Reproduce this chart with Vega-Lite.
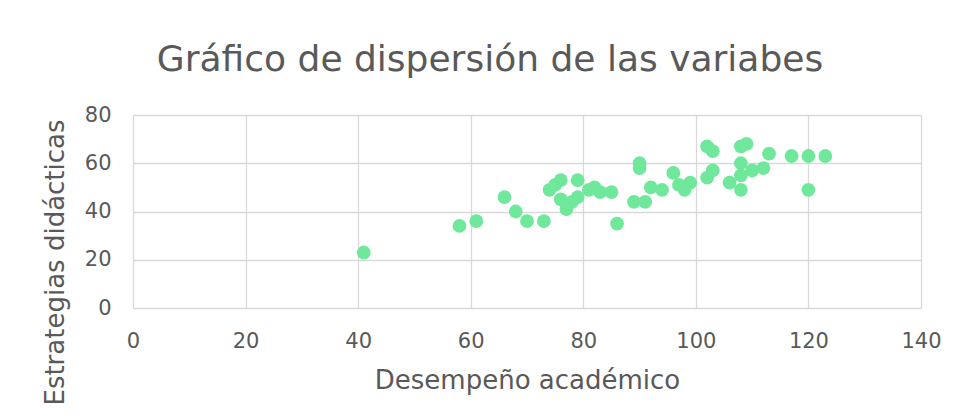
{
  "$schema": "https://vega.github.io/schema/vega-lite/v6.json",
  "autosize": {"type": "none"},
  "width": 788,
  "height": 193,
  "padding": {"left": 133, "top": 115, "right": 36, "bottom": 112},
  "background": "white",
  "title": {
    "text": "Gráfico de dispersión de las variabes",
    "anchor": "middle",
    "frame": "group",
    "dx": -37,
    "baseline": "alphabetic",
    "offset": -3,
    "font": "DejaVu Sans",
    "fontSize": 36,
    "fontWeight": "normal",
    "color": "#595959"
  },
  "data": {
    "values": [
      {"x": 41, "y": 23}, {"x": 58, "y": 34}, {"x": 61, "y": 36}, {"x": 66, "y": 46},
      {"x": 68, "y": 40}, {"x": 70, "y": 36}, {"x": 73, "y": 36}, {"x": 74, "y": 49},
      {"x": 75, "y": 51}, {"x": 76, "y": 53}, {"x": 76, "y": 45}, {"x": 77, "y": 41},
      {"x": 78, "y": 44}, {"x": 79, "y": 53}, {"x": 79, "y": 46}, {"x": 81, "y": 49},
      {"x": 82, "y": 50}, {"x": 83, "y": 48}, {"x": 85, "y": 48}, {"x": 86, "y": 35},
      {"x": 89, "y": 44}, {"x": 90, "y": 60}, {"x": 90, "y": 58}, {"x": 91, "y": 44},
      {"x": 92, "y": 50}, {"x": 94, "y": 49}, {"x": 96, "y": 56}, {"x": 97, "y": 51},
      {"x": 98, "y": 49}, {"x": 99, "y": 52}, {"x": 102, "y": 67}, {"x": 103, "y": 65},
      {"x": 102, "y": 54}, {"x": 103, "y": 57}, {"x": 106, "y": 52}, {"x": 108, "y": 67},
      {"x": 109, "y": 68}, {"x": 108, "y": 60}, {"x": 108, "y": 55}, {"x": 108, "y": 49},
      {"x": 110, "y": 57}, {"x": 112, "y": 58}, {"x": 113, "y": 64}, {"x": 117, "y": 63},
      {"x": 120, "y": 63}, {"x": 123, "y": 63}, {"x": 120, "y": 49}
    ]
  },
  "mark": {"type": "circle", "size": 190, "color": "#70E89C", "opacity": 1},
  "encoding": {
    "x": {
      "field": "x", "type": "quantitative",
      "scale": {"domain": [0, 140], "nice": false},
      "axis": {
        "values": [0, 20, 40, 60, 80, 100, 120, 140],
        "title": "Desempeño académico",
        "domain": false, "ticks": false,
        "labelFlush": false,
        "labelPadding": 22,
        "labelFontSize": 21, "labelFont": "DejaVu Sans", "labelColor": "#595959",
        "titleFontSize": 26, "titleFont": "DejaVu Sans", "titleColor": "#595959",
        "titleFontWeight": "normal",
        "titleBaseline": "alphabetic",
        "titleY": 80,
        "gridColor": "#D9D9D9", "gridWidth": 1.3
      }
    },
    "y": {
      "field": "y", "type": "quantitative",
      "scale": {"domain": [0, 80], "nice": false},
      "axis": {
        "values": [0, 20, 40, 60, 80],
        "title": "Estrategias didácticas",
        "domain": false, "ticks": false,
        "labelFlush": false,
        "labelPadding": 22,
        "labelFontSize": 21, "labelFont": "DejaVu Sans", "labelColor": "#595959",
        "titleFontSize": 26, "titleFont": "DejaVu Sans", "titleColor": "#595959",
        "titleFontWeight": "normal",
        "titleAngle": -90,
        "titleAlign": "center",
        "titleBaseline": "alphabetic",
        "titleX": -70,
        "titleY": 147,
        "gridColor": "#D9D9D9", "gridWidth": 1.3
      }
    }
  },
  "config": {"view": {"stroke": null}}
}
